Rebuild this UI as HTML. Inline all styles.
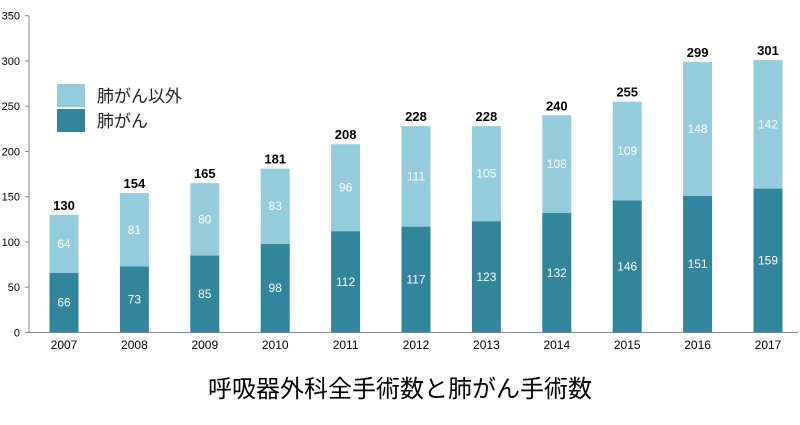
<!DOCTYPE html>
<html><head><meta charset="utf-8"><style>
body{margin:0;background:#fff;width:800px;height:420px;overflow:hidden;font-family:"Liberation Sans","Noto Sans CJK JP",sans-serif}
</style></head><body>
<svg id="c" width="800" height="420" xmlns="http://www.w3.org/2000/svg" font-family="Liberation Sans, Noto Sans CJK JP, sans-serif"></svg>
<script>
const years=["2007","2008","2009","2010","2011","2012","2013","2014","2015","2016","2017"];
const lung=[66,73,85,98,112,117,123,132,146,151,159];
const other=[64,81,80,83,96,111,105,108,109,148,142];
const totals=[130,154,165,181,208,228,228,240,255,299,301];
const yTicks=[0,50,100,150,200,250,300,350];
const svg=document.getElementById('c');
const NS='http://www.w3.org/2000/svg';
const y0=332.5,yTop=15.7,yMax=350;
function y(v){return y0-(v/yMax)*(y0-yTop);}
function x(i){return 64+i*70.4;}
const bw=29;
function mk(t,a,p){const e=document.createElementNS(NS,t);for(const k in a)e.setAttribute(k,a[k]);(p||svg).appendChild(e);return e;}
let ax=mk('line',{x1:29,y1:y0,x2:29,y2:y(350),stroke:'#888','stroke-width':1});


let xa=mk('line',{x1:29,y1:y0,x2:798,y2:y0,stroke:'#888','stroke-width':1});


yTicks.forEach(v=>{
 let l=mk('line',{x1:25,y1:y(v),x2:29,y2:y(v),stroke:'#888'});
 
 
 let t=mk('text',{x:20,y:y(v)+4,'text-anchor':'end','font-size':11,fill:'#000'});
 t.textContent=v;
 
 
});
years.forEach((yr,i)=>{
 const cx=x(i);
 let b1=mk('rect',{x:cx-bw/2,y:y(lung[i]),width:bw,height:y0-y(lung[i]),fill:'#31859c'});
 
 
 let b2=mk('rect',{x:cx-bw/2,y:y(lung[i]+other[i]),width:bw,height:y(lung[i])-y(lung[i]+other[i]),fill:'#93cddd'});
 
 
 let t1=mk('text',{x:cx,y:(y0+y(lung[i]))/2+4,'text-anchor':'middle','font-size':12,fill:'#fff'});
 t1.textContent=lung[i];
 
 
 let t2=mk('text',{x:cx,y:(y(lung[i])+y(lung[i]+other[i]))/2+4,'text-anchor':'middle','font-size':12,fill:'#fff'});
 t2.textContent=other[i];
 
 
 let t3=mk('text',{x:cx,y:y(totals[i])-5,'text-anchor':'middle','font-size':13,'font-weight':'bold',fill:'#000'});
 t3.textContent=totals[i];
 
 
 let t4=mk('text',{x:cx,y:349,'text-anchor':'middle','font-size':12,fill:'#000'});
 t4.textContent=yr;
 
 
});
let lg1=mk('rect',{x:57,y:84,width:28,height:23,fill:'#93cddd'});


let lg2=mk('rect',{x:57,y:109,width:28,height:23,fill:'#31859c'});


let lt1=mk('text',{x:97,y:102,'font-size':17,fill:'#222'});
lt1.textContent='肺がん以外';


let lt2=mk('text',{x:97,y:127,'font-size':17,fill:'#222'});
lt2.textContent='肺がん';


let ti=mk('text',{x:400,y:397,'text-anchor':'middle','font-size':24,fill:'#000'});
ti.textContent='呼吸器外科全手術数と肺がん手術数';


</script>
</body></html>
